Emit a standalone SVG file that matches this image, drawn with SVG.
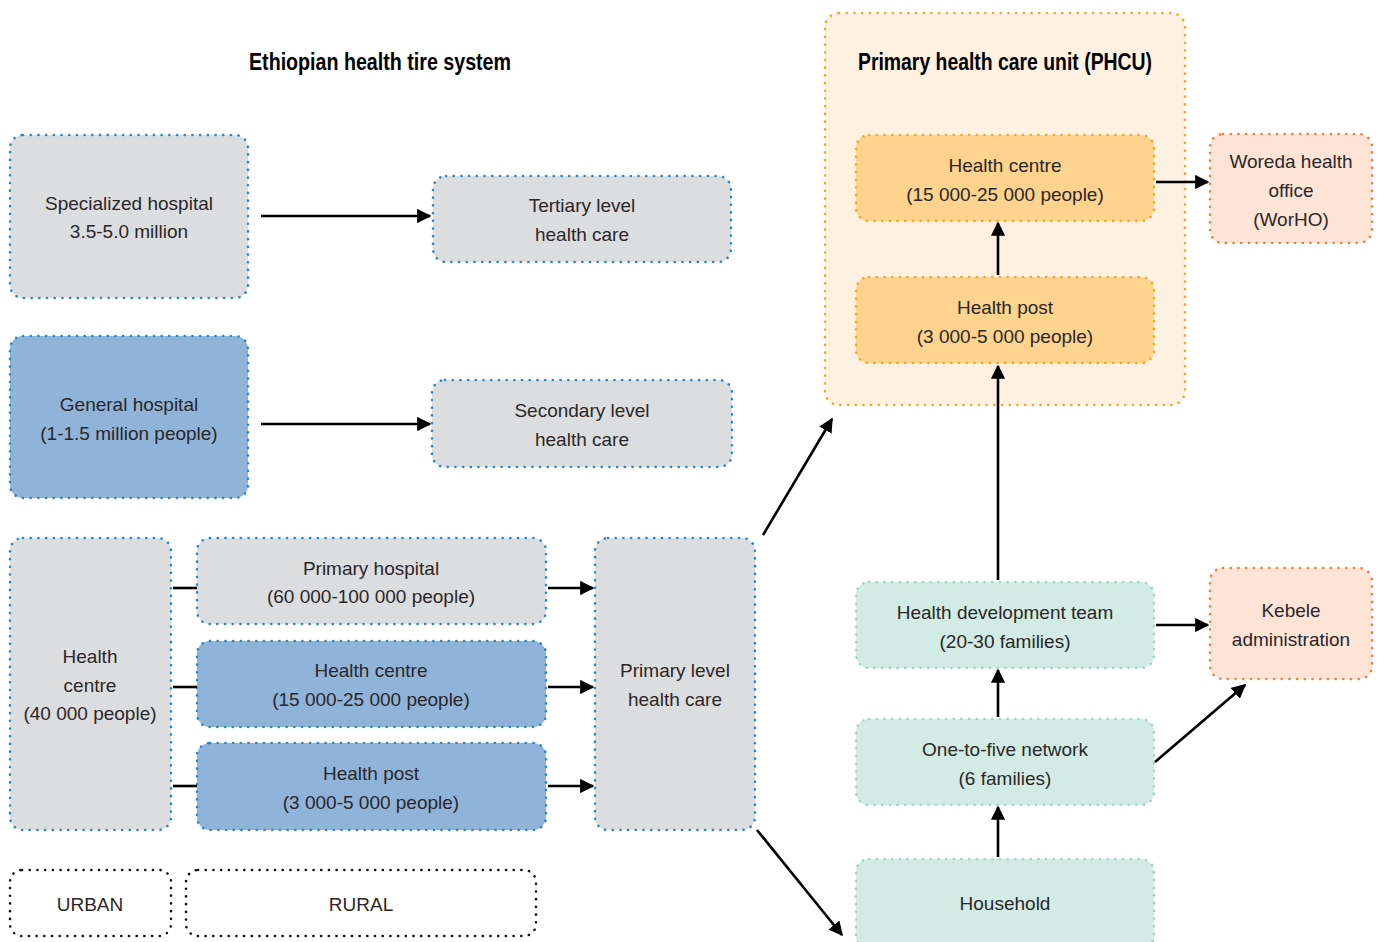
<svg xmlns="http://www.w3.org/2000/svg" width="1378" height="942" viewBox="0 0 1378 942">
<defs>
<marker id="ah" viewBox="0 0 10 10" refX="9" refY="5" markerWidth="5.5" markerHeight="5.5" orient="auto" markerUnits="strokeWidth">
<path d="M0,0 L10,5 L0,10 z" fill="#000"/>
</marker>
<style>
rect{stroke-width:2.6;stroke-linecap:round;stroke-dasharray:0.1 7.6}
.g{fill:#dcdddf;stroke:#2a86c6}
.b{fill:#8fb3d9;stroke:#2a86c6}
.w{fill:#fff;stroke:#111}
.pc{fill:#fef1e1;stroke:#f6a623}
.y{fill:#fdd38d;stroke:#f6a623}
.o{fill:#fde4d7;stroke:#f47c3f}
.t{fill:#d2ebe4;stroke:#9fd3c6}
text{font-family:"Liberation Sans",Arial,sans-serif;font-size:19px;fill:#2b2728;text-anchor:middle}
.h{font-weight:bold;font-size:23px;fill:#000}
.c line{stroke:#000;stroke-width:2.6}
</style>
</defs>
<text class="h" x="380" y="70" textLength="262" lengthAdjust="spacingAndGlyphs">Ethiopian health tire system</text>
<g id="phcu"><rect class="pc" x="825" y="13" width="360" height="392" rx="14"/>
<text class="h" x="1005" y="70" textLength="294" lengthAdjust="spacingAndGlyphs">Primary health care unit (PHCU)</text></g>
<g id="specialized"><rect class="g" x="10" y="135" width="238" height="163" rx="13"/><text x="129" y="210">Specialized hospital</text><text x="129" y="238">3.5-5.0 million</text></g>
<g id="tertiary"><rect class="g" x="433" y="176" width="298" height="86" rx="13"/><text x="582" y="212">Tertiary level</text><text x="582" y="241">health care</text></g>
<g id="general"><rect class="b" x="10" y="336" width="238" height="162" rx="13"/><text x="129" y="411">General hospital</text><text x="129" y="440">(1-1.5 million people)</text></g>
<g id="secondary"><rect class="g" x="432" y="380" width="300" height="87" rx="13"/><text x="582" y="417">Secondary level</text><text x="582" y="446">health care</text></g>
<g id="hc-urban"><rect class="g" x="10" y="538" width="161" height="292" rx="13"/><text x="90" y="663">Health</text><text x="90" y="692">centre</text><text x="90" y="720">(40 000 people)</text></g>
<g id="primary-hospital"><rect class="g" x="197" y="538" width="349" height="86" rx="13"/><text x="371" y="575">Primary hospital</text><text x="371" y="603">(60 000-100 000 people)</text></g>
<g id="hc-rural"><rect class="b" x="197" y="641" width="349" height="86" rx="13"/><text x="371" y="677">Health centre</text><text x="371" y="706">(15 000-25 000 people)</text></g>
<g id="hp-rural"><rect class="b" x="197" y="743" width="349" height="87" rx="13"/><text x="371" y="780">Health post</text><text x="371" y="809">(3 000-5 000 people)</text></g>
<g id="primary-level"><rect class="g" x="595" y="538" width="160" height="292" rx="13"/><text x="675" y="677">Primary level</text><text x="675" y="706">health care</text></g>
<g id="urban"><rect class="w" x="10" y="870" width="161" height="66" rx="12"/><text x="90" y="911">URBAN</text></g>
<g id="rural"><rect class="w" x="186" y="870" width="350" height="66" rx="12"/><text x="361" y="911">RURAL</text></g>
<g id="hc-phcu"><rect class="y" x="856" y="135" width="298" height="86" rx="13"/><text x="1005" y="172">Health centre</text><text x="1005" y="201">(15 000-25 000 people)</text></g>
<g id="hp-phcu"><rect class="y" x="856" y="277" width="298" height="86" rx="13"/><text x="1005" y="314">Health post</text><text x="1005" y="343">(3 000-5 000 people)</text></g>
<g id="woreda"><rect class="o" x="1210" y="134" width="162" height="109" rx="13"/><text x="1291" y="168">Woreda health</text><text x="1291" y="197">office</text><text x="1291" y="226">(WorHO)</text></g>
<g id="hdt"><rect class="t" x="856" y="582" width="298" height="86" rx="13"/><text x="1005" y="619">Health development team</text><text x="1005" y="648">(20-30 families)</text></g>
<g id="one-to-five"><rect class="t" x="856" y="719" width="298" height="86" rx="13"/><text x="1005" y="756">One-to-five network</text><text x="1005" y="785">(6 families)</text></g>
<g id="household"><rect class="t" x="856" y="859" width="298" height="90" rx="13"/><text x="1005" y="910">Household</text></g>
<g id="kebele"><rect class="o" x="1210" y="568" width="162" height="111" rx="13"/><text x="1291" y="617">Kebele</text><text x="1291" y="646">administration</text></g>
<g id="connectors" class="c">
<line x1="261" y1="216" x2="430" y2="216" marker-end="url(#ah)"/>
<line x1="261" y1="424" x2="430" y2="424" marker-end="url(#ah)"/>
<line x1="173" y1="588" x2="197" y2="588"/>
<line x1="173" y1="687" x2="197" y2="687"/>
<line x1="173" y1="786" x2="197" y2="786"/>
<line x1="548" y1="588" x2="593" y2="588" marker-end="url(#ah)"/>
<line x1="548" y1="687" x2="593" y2="687" marker-end="url(#ah)"/>
<line x1="548" y1="786" x2="593" y2="786" marker-end="url(#ah)"/>
<line x1="763" y1="535" x2="832" y2="419" marker-end="url(#ah)"/>
<line x1="757" y1="830" x2="842" y2="935" marker-end="url(#ah)"/>
<line x1="998" y1="580" x2="998" y2="366" marker-end="url(#ah)"/>
<line x1="998" y1="275" x2="998" y2="223" marker-end="url(#ah)"/>
<line x1="1156" y1="182" x2="1208" y2="182" marker-end="url(#ah)"/>
<line x1="998" y1="717" x2="998" y2="670" marker-end="url(#ah)"/>
<line x1="998" y1="857" x2="998" y2="807" marker-end="url(#ah)"/>
<line x1="1156" y1="625" x2="1208" y2="625" marker-end="url(#ah)"/>
<line x1="1155" y1="762" x2="1245" y2="685" marker-end="url(#ah)"/>
</g>
</svg>
